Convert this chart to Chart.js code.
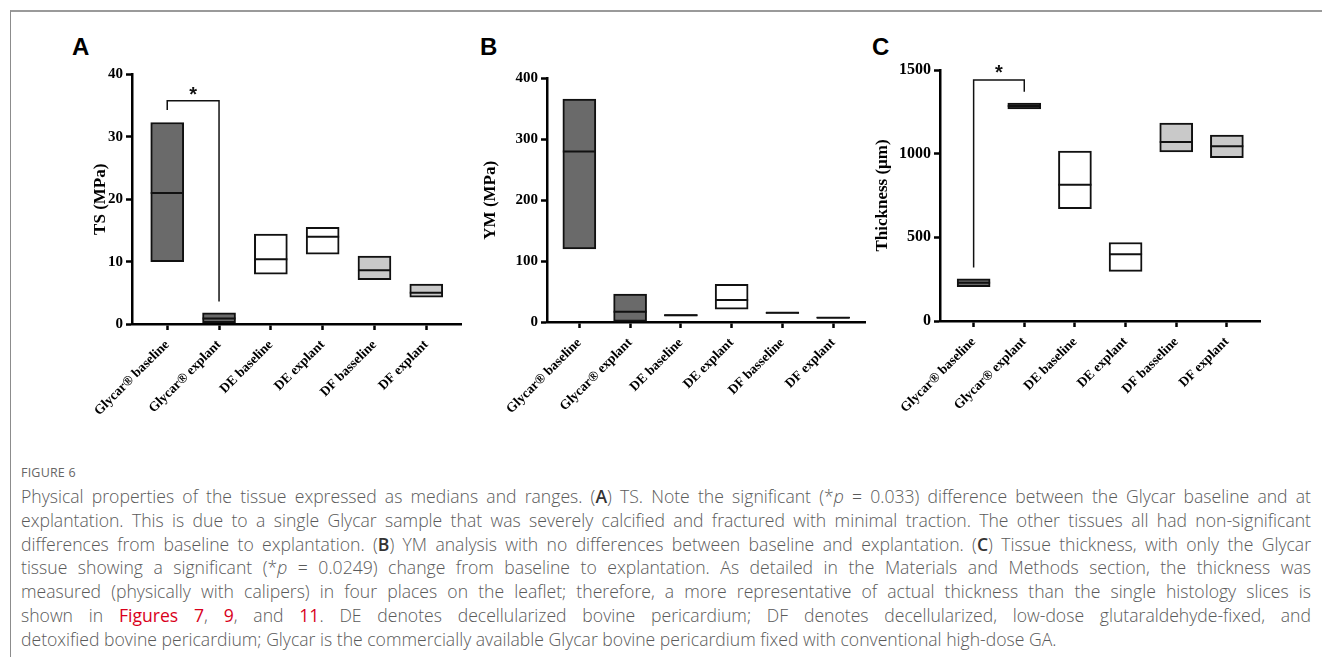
<!DOCTYPE html>
<html>
<head>
<meta charset="utf-8">
<script src="https://cdn.jsdelivr.net/npm/chart.js@4.4.0/dist/chart.umd.min.js"></script>
<style>
  body { margin: 0; width: 1322px; height: 657px; background: #fff; position: relative; overflow: hidden; font-family: "Open Sans", sans-serif; }
  .frame { position: absolute; left: 10px; top: 10px; right: -5px; bottom: -5px; border-top: 2px solid #9a9a9a; border-left: 1.5px solid #8c8c8c; }
  .letter { position: absolute; font: bold 24px "Liberation Sans", Arial, sans-serif; color: #000; }
  .panel { position: absolute; }
  .fig { position: absolute; left: 21px; top: 464px; font-size: 12.5px; color: #666; letter-spacing: 0.2px; }
  .caption { position: absolute; left: 21px; top: 485px; width: 1290px; font-size: 17.6px; font-weight: 300; line-height: 23.8px; color: #5a5a5a; }
  .caption div { text-align: justify; text-align-last: justify; }
  .caption div.last { text-align-last: left; }
  .caption b { font-weight: 600; color: #333; }
  .caption .ref { color: #d9001b; font-weight: 400; }
</style>
</head>
<body>
<div class="frame"></div>
<div class="letter" style="left:72px; top:33px;">A</div>
<div class="letter" style="left:480px; top:33px;">B</div>
<div class="letter" style="left:872px; top:33px;">C</div>

<canvas id="tsChart" class="panel" width="420" height="384" style="left:60px; top:56px;"></canvas>
<canvas id="ymChart" class="panel" width="406" height="380" style="left:478px; top:60px;"></canvas>
<canvas id="thChart" class="panel" width="413" height="390" style="left:866px; top:50px;"></canvas>

<div class="fig">FIGURE 6</div>
<div class="caption">
  <div>Physical properties of the tissue expressed as medians and ranges. (<b>A</b>) TS. Note the significant (*<i>p</i> = 0.033) difference between the Glycar baseline and at</div>
  <div>explantation. This is due to a single Glycar sample that was severely calcified and fractured with minimal traction. The other tissues all had non-significant</div>
  <div>differences from baseline to explantation. (<b>B</b>) YM analysis with no differences between baseline and explantation. (<b>C</b>) Tissue thickness, with only the Glycar</div>
  <div>tissue showing a significant (*<i>p</i> = 0.0249) change from baseline to explantation. As detailed in the Materials and Methods section, the thickness was</div>
  <div>measured (physically with calipers) in four places on the leaflet; therefore, a more representative of actual thickness than the single histology slices is</div>
  <div>shown in <span class="ref">Figures 7</span>, <span class="ref">9</span>, and <span class="ref">11</span>. DE denotes decellularized bovine pericardium; DF denotes decellularized, low-dose glutaraldehyde-fixed, and</div>
  <div class="last">detoxified bovine pericardium; Glycar is the commercially available Glycar bovine pericardium fixed with conventional high-dose GA.</div>
</div>

<script>
const categories = ["Glycar® baseline", "Glycar® explant", "DE baseline", "DE explant", "DF basseline", "DF explant"];

// A: tensile strength (MPa), min / median / max
const tsMin = [10, 0.2, 8.0, 11.2, 7.1, 4.3];
const tsMedian = [21, 0.9, 10.4, 14.0, 8.6, 5.0];
const tsMax = [32.3, 1.8, 14.4, 15.5, 10.9, 6.4];
const tsTicks = [0, 10, 20, 30, 40];
const tsBracket = [34.3, 35.8, 3.6];
const tsStar = 36.7;

// B: Young's modulus (MPa)
const ymMin = [120, 1, 10, 21, 14, 6.5];
const ymMedian = [280, 17, 11, 36, 15, 7];
const ymMax = [366, 46, 12, 62, 16, 7.5];
const ymTicks = [0, 100, 200, 300, 400];

// C: thickness (µm)
const thMin = [205, 1268, 672, 297, 1010, 976];
const thMedian = [228, 1285, 814, 399, 1069, 1045];
const thMax = [252, 1303, 1015, 469, 1183, 1111];
const thTicks = [0, 500, 1000, 1500];
const thBracket = [320, 1440, 1370];
const thStar = 1478;

const boxFill = ["#6a6a6a", "#6a6a6a", "#ffffff", "#ffffff", "#c9c9c9", "#c9c9c9"];
const ink = "#111";

function starPlugin(yVal) {
    return {
        id: "star",
        afterDatasetsDraw(chart) {
            if (yVal == null) return;
            const ctx = chart.ctx;
            ctx.save();
            ctx.font = "bold 20px 'Liberation Sans'";
            ctx.fillStyle = ink;
            ctx.textAlign = "center";
            ctx.textBaseline = "middle";
            ctx.fillText("*", chart.scales.x.getPixelForValue(0.5), chart.scales.y.getPixelForValue(yVal));
            ctx.restore();
        }
    };
}

function makePanel(id, p) {
    const datasets = [
        {
            type: "bar",
            data: categories.map((c, i) => ({ x: i, y: [p.mins[i], p.maxs[i]] })),
            backgroundColor: boxFill,
            borderColor: ink,
            borderWidth: 2,
            borderSkipped: false,
            barThickness: 33,
            order: 2
        },
        {
            type: "line",
            data: p.medians.map((v, i) => ({ x: i, y: v })),
            showLine: false,
            pointStyle: "line",
            pointRadius: 16.5,
            pointBorderWidth: 2,
            pointBorderColor: ink,
            borderColor: ink,
            order: 0
        }
    ];
    if (p.bracket) {
        datasets.push({
            type: "line",
            data: [{ x: 0, y: p.bracket[0] }, { x: 0, y: p.bracket[1] }, { x: 1, y: p.bracket[1] }, { x: 1, y: p.bracket[2] }],
            borderColor: ink,
            borderWidth: 1.5,
            pointRadius: 0,
            fill: false,
            tension: 0,
            order: 1
        });
    }

    const axisGrid = { drawOnChartArea: false, offset: false, tickLength: 6, tickWidth: 2.5, tickColor: "#000" };
    const axisBorder = { color: "#000", width: 2.5 };

    return new Chart(document.getElementById(id).getContext("2d"), {
        type: "bar",
        data: { datasets: datasets },
        options: {
            responsive: false,
            animation: false,
            events: [],
            layout: { padding: { top: p.padTop, right: 12, left: 0, bottom: 0 } },
            plugins: { legend: { display: false }, tooltip: { enabled: false } },
            scales: {
                x: {
                    type: "linear",
                    offset: false,
                    min: -p.xPad,
                    max: categories.length - 1 + p.xPad,
                    afterBuildTicks: s => { s.ticks = categories.map((c, i) => ({ value: i })); },
                    ticks: {
                        autoSkip: false,
                        minRotation: 45,
                        maxRotation: 45,
                        padding: 7,
                        color: "#000",
                        font: { family: "Liberation Serif", weight: "bold", size: 13.5 },
                        callback: v => categories[v]
                    },
                    grid: axisGrid,
                    border: axisBorder,
                    afterFit: s => { s.height = p.xHeight; s.paddingLeft = 0; s.paddingRight = 0; }
                },
                y: {
                    min: p.ticks[0],
                    max: p.ticks[p.ticks.length - 1],
                    afterBuildTicks: s => { s.ticks = p.ticks.map(v => ({ value: v })); },
                    ticks: {
                        padding: 3,
                        color: "#000",
                        font: { family: "Liberation Serif", weight: "bold", size: p.tickSize },
                        callback: v => String(v)
                    },
                    grid: axisGrid,
                    border: axisBorder,
                    title: {
                        display: true,
                        text: p.title,
                        color: "#000",
                        font: { family: "Liberation Serif", weight: "bold", size: 17 },
                        padding: { top: p.titlePad, bottom: 0 }
                    },
                    afterFit: s => { s.width = p.yWidth; s.paddingTop = 0; s.paddingBottom = 0; }
                }
            }
        },
        plugins: [starPlugin(p.star)]
    });
}

makePanel("tsChart", {
    mins: tsMin, medians: tsMedian, maxs: tsMax, ticks: tsTicks,
    title: "TS (MPa)", bracket: tsBracket, star: tsStar,
    padTop: 18, yWidth: 72, xHeight: 116, xPad: 0.68, titlePad: 30, tickSize: 15
});

makePanel("ymChart", {
    mins: ymMin, medians: ymMedian, maxs: ymMax, ticks: ymTicks,
    title: "YM (MPa)", bracket: null, star: null,
    padTop: 18, yWidth: 69, xHeight: 118, xPad: 0.637, titlePad: 2, tickSize: 15
});

makePanel("thChart", {
    mins: thMin, medians: thMedian, maxs: thMax, ticks: thTicks,
    title: "Thickness (μm)", bracket: thBracket, star: thStar,
    padTop: 20, yWidth: 74, xHeight: 119, xPad: 0.664, titlePad: 6, tickSize: 16
});
</script>
</body>
</html>
